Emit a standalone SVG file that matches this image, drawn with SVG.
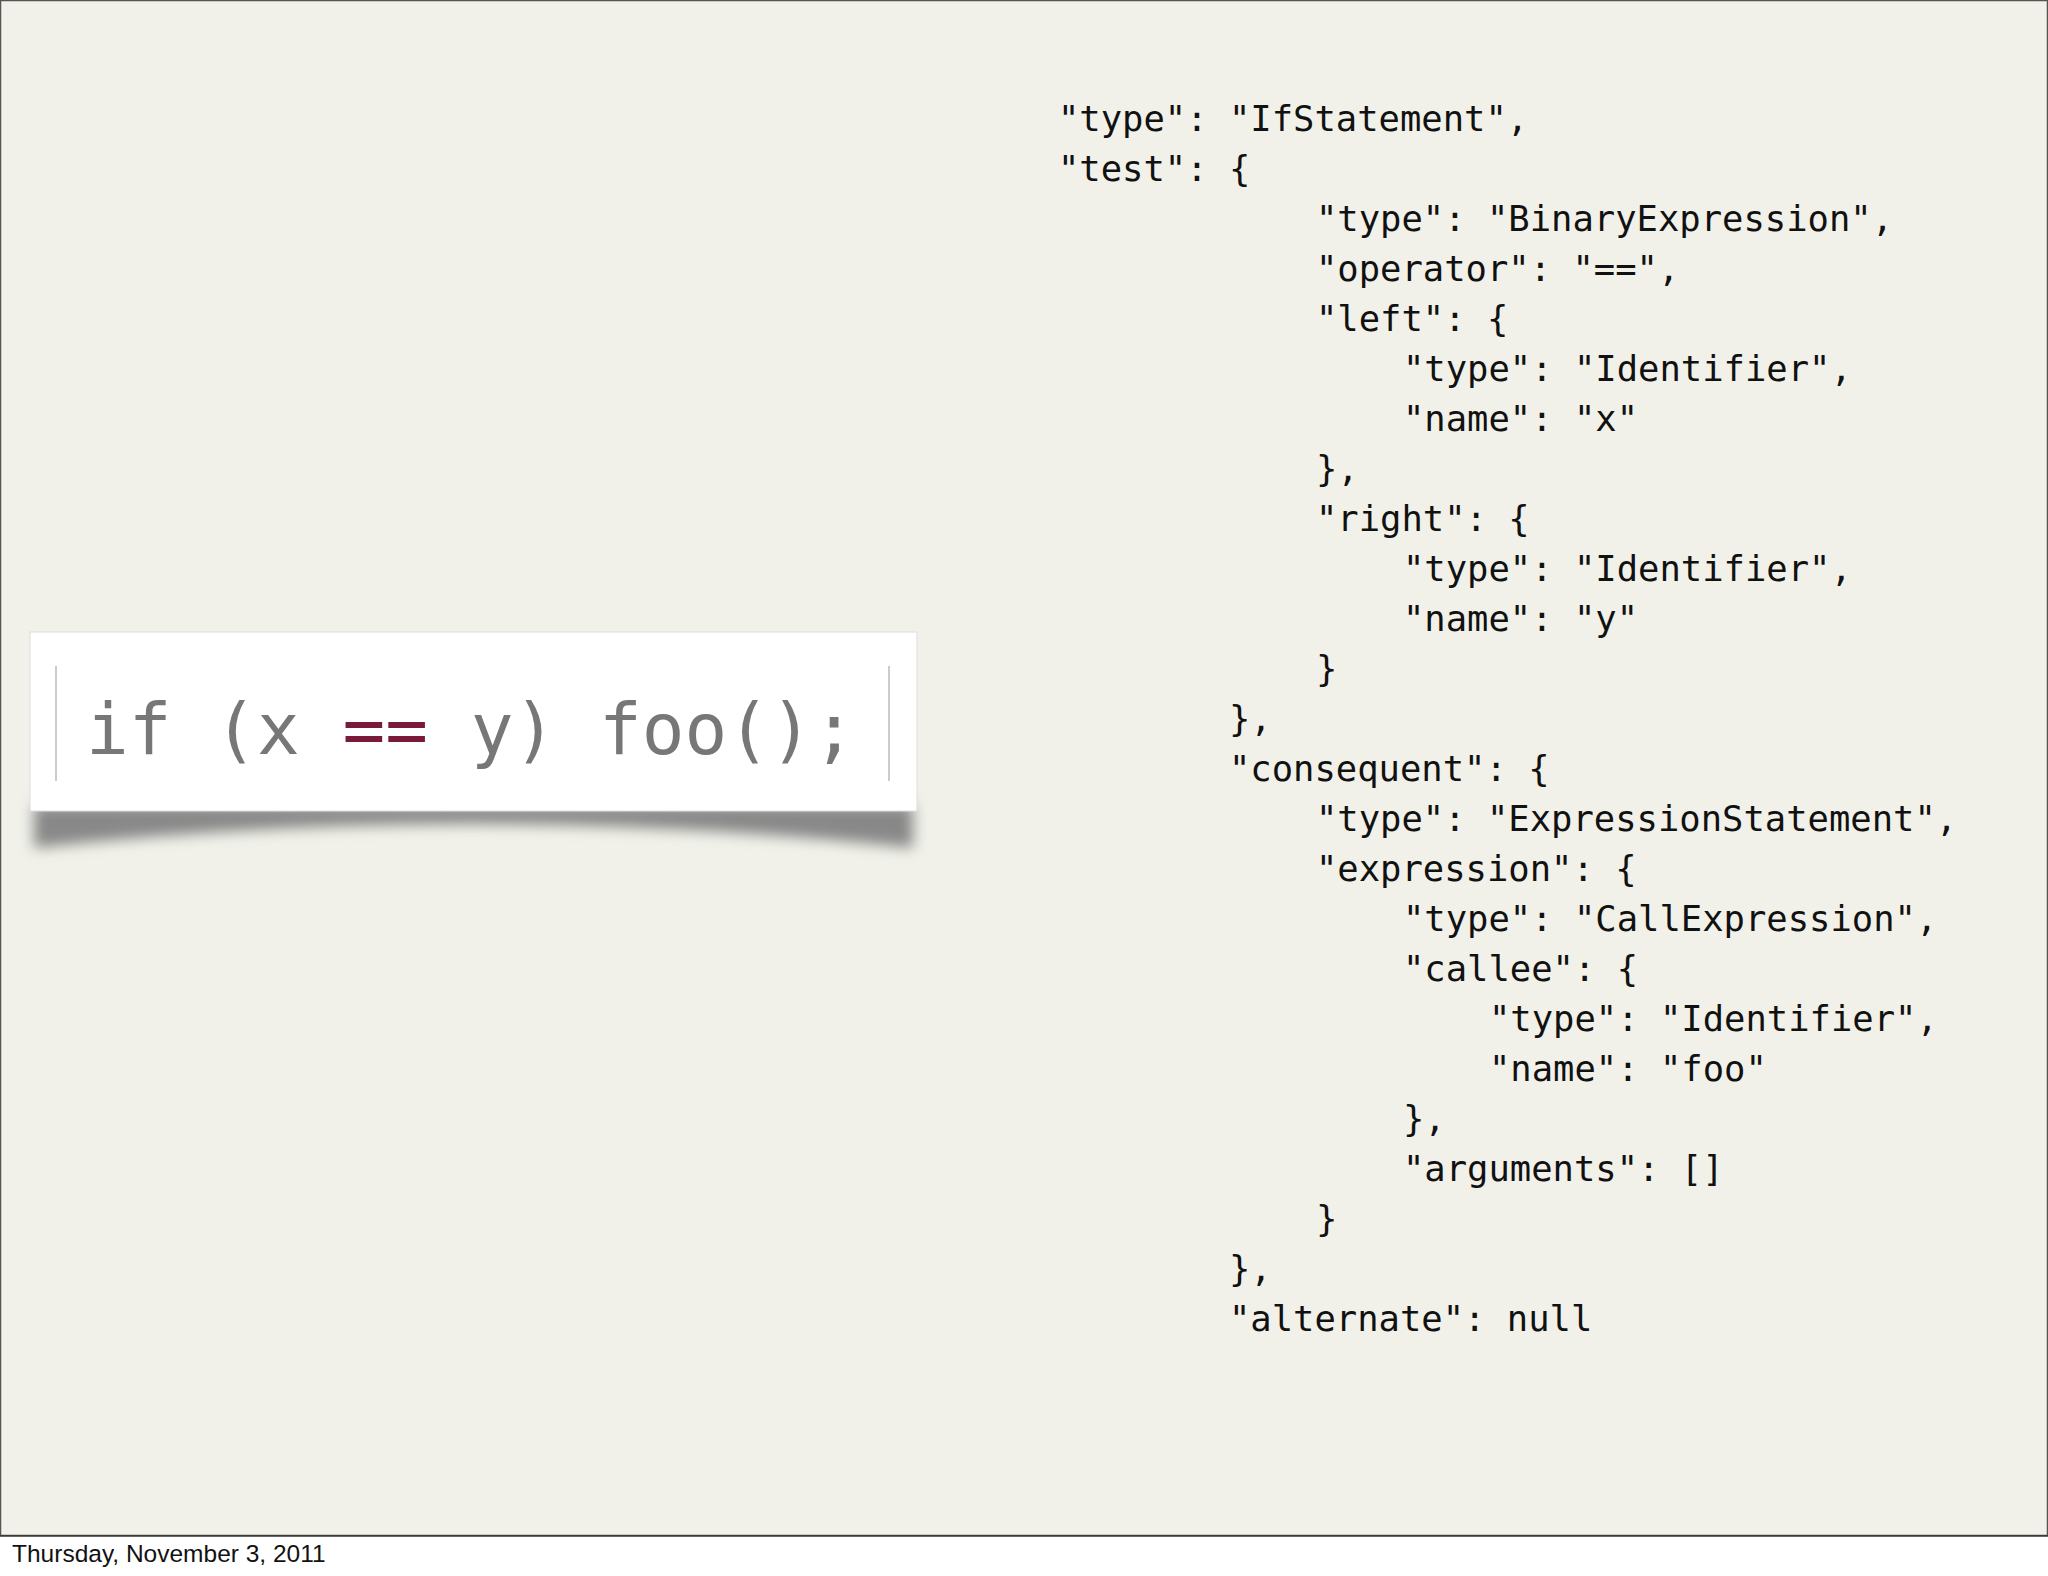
<svg xmlns="http://www.w3.org/2000/svg" width="2048" height="1576" viewBox="0 0 2048 1576">
<defs>
<style>
.j{font-family:"DejaVu Sans Mono","Liberation Mono",monospace;font-size:35.5px;fill:#111;white-space:pre}
.c{font-family:"DejaVu Sans Mono","Liberation Mono",monospace;font-size:71px;fill:#777;white-space:pre}
</style>
<filter id="blur" x="-10%" y="-50%" width="120%" height="200%"><feGaussianBlur stdDeviation="7"/></filter>
</defs>
<rect x="0" y="0" width="2048" height="1576" fill="#f1f1ea"/>
<rect x="0.5" y="0.5" width="2047" height="1535" fill="none" stroke="#555" stroke-width="1.5"/>
<rect x="0" y="1536" width="2048" height="40" fill="#fff"/>
<line x1="0" y1="1536" x2="2048" y2="1536" stroke="#333" stroke-width="1.5"/>
<text x="12" y="1562" font-family="Liberation Sans, Arial, sans-serif" font-size="24.5" fill="#111">Thursday, November 3, 2011</text>
<g id="card">
<path d="M34 805 L913 805 L913 848 Q470 800 34 848 Z" fill="#888" filter="url(#blur)"/>
<rect x="30" y="632" width="887" height="179" fill="#fff" stroke="#ddd"/>
<line x1="56" y1="666" x2="56" y2="781" stroke="#ccc" stroke-width="2"/>
<line x1="889" y1="666" x2="889" y2="781" stroke="#ccc" stroke-width="2"/>
<text class="c" x="86" y="754">if (x <tspan fill="#7a1a3a">==</tspan> y) foo();</text>
</g>
<g id="json">
<text class="j" x="1058" y="131">"type": "IfStatement",</text>
<text class="j" x="1058" y="181">"test": {</text>
<text class="j" x="1316" y="231">"type": "BinaryExpression",</text>
<text class="j" x="1316" y="281">"operator": "==",</text>
<text class="j" x="1316" y="331">"left": {</text>
<text class="j" x="1403" y="381">"type": "Identifier",</text>
<text class="j" x="1403" y="431">"name": "x"</text>
<text class="j" x="1316" y="481">},</text>
<text class="j" x="1316" y="531">"right": {</text>
<text class="j" x="1403" y="581">"type": "Identifier",</text>
<text class="j" x="1403" y="631">"name": "y"</text>
<text class="j" x="1316" y="681">}</text>
<text class="j" x="1229" y="731">},</text>
<text class="j" x="1229" y="781">"consequent": {</text>
<text class="j" x="1316" y="831">"type": "ExpressionStatement",</text>
<text class="j" x="1316" y="881">"expression": {</text>
<text class="j" x="1403" y="931">"type": "CallExpression",</text>
<text class="j" x="1403" y="981">"callee": {</text>
<text class="j" x="1489" y="1031">"type": "Identifier",</text>
<text class="j" x="1489" y="1081">"name": "foo"</text>
<text class="j" x="1403" y="1131">},</text>
<text class="j" x="1403" y="1181">"arguments": []</text>
<text class="j" x="1316" y="1231">}</text>
<text class="j" x="1229" y="1281">},</text>
<text class="j" x="1229" y="1331">"alternate": null</text>
</g>
</svg>
